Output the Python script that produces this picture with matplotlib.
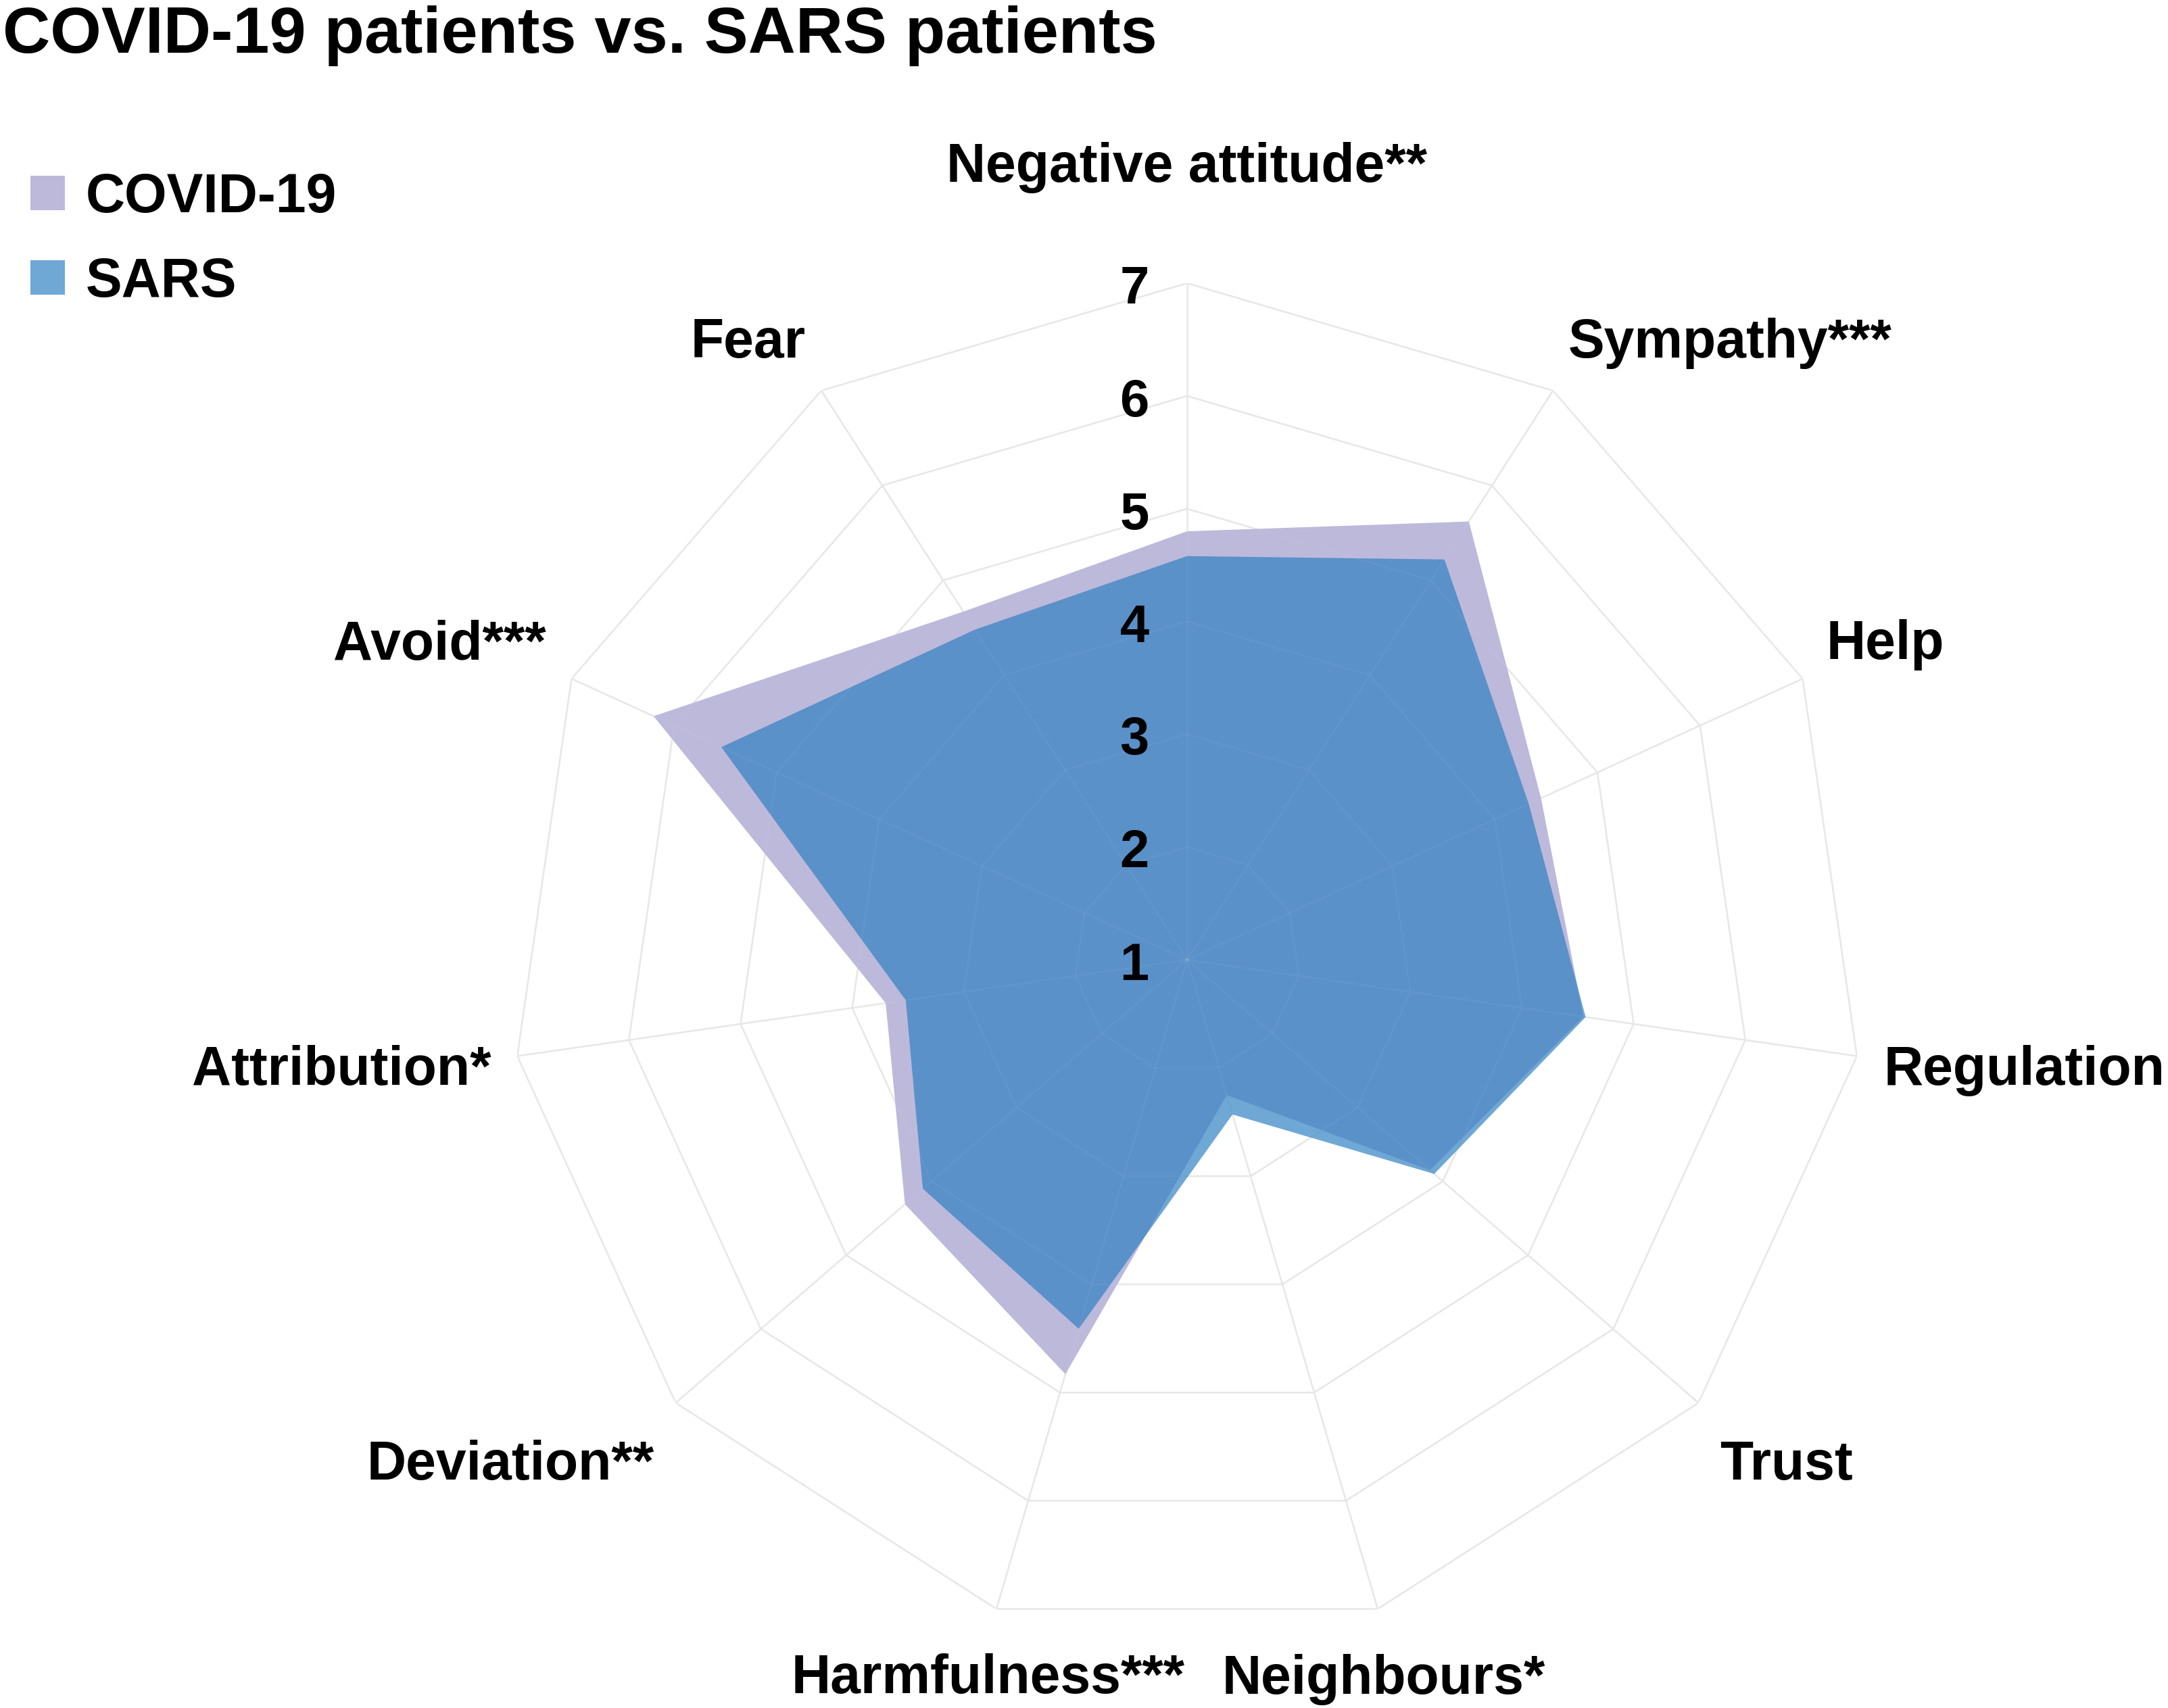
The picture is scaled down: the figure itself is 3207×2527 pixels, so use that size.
import numpy as np
import matplotlib
matplotlib.use('Agg')
import matplotlib.pyplot as plt
from matplotlib.patches import Rectangle

# ---------------- data ----------------
categories = ['Negative attitude**', 'Sympathy***', 'Help', 'Regulation', 'Trust',
              'Neighbours*', 'Harmfulness***', 'Deviation**', 'Attribution*',
              'Avoid***', 'Fear']
covid = [4.80, 5.62, 4.45, 4.55, 3.85, 2.25, 4.83, 4.31, 3.70, 6.20, 4.67]
sars = [4.58, 5.22, 4.33, 4.57, 3.90, 2.43, 4.41, 4.10, 3.52, 5.54, 4.48]
series_names = ['COVID-19', 'SARS']
scale_ticks = [1, 2, 3, 4, 5, 6, 7]
title = 'COVID-19 patients vs. SARS patients'

# ---------------- style ----------------
plt.rcParams['font.family'] = ['Liberation Sans', 'DejaVu Sans']
covid_color = '#BDB9DB'
sars_color = '#2B7EC1'
sars_alpha = 0.68
grid_color = '#E7E7E7'

W, H = 3207, 2527
fig = plt.figure(figsize=(W / 100, H / 100), dpi=100)
cx, cy, R = 1756, 1420, 1001
ax = fig.add_axes([(cx - R) / W, (H - cy - R) / H, 2 * R / W, 2 * R / H],
                  projection='polar')
ax.set_theta_zero_location('N')
ax.set_theta_direction(-1)
ax.set_ylim(scale_ticks[0], scale_ticks[-1])
ax.axis('off')

N = len(categories)
theta = np.linspace(0, 2 * np.pi, N, endpoint=False)
tc = np.append(theta, theta[0])


def closed(v):
    return np.append(v, v[0])


def draw_grid(z, color, alpha, lw):
    for rv in scale_ticks[1:]:
        ax.plot(tc, [rv] * (N + 1), color=color, lw=lw, alpha=alpha, zorder=z,
                solid_joinstyle='miter')
    for th in theta:
        ax.plot([th, th], [scale_ticks[0], scale_ticks[-1]], color=color, lw=lw,
                alpha=alpha, zorder=z)


draw_grid(1, grid_color, 1.0, 1.8)
ax.fill(tc, closed(covid), color=covid_color, lw=0, zorder=2)
# white underlay so the grid does not show through the translucent SARS layer
ax.fill(tc, closed(sars), color='white', lw=0, zorder=2.5, alpha=0.0)
ax.fill(tc, closed(sars), color=sars_color, alpha=sars_alpha, lw=0, zorder=3)
draw_grid(4, '#F2F2F2', 0.05, 1.8)

# scale labels along the top axis
for v in scale_ticks:
    ax.annotate(str(v), xy=(0, v), xytext=(-78, -30), textcoords='offset pixels',
                ha='center', va='baseline', fontsize=56, fontweight='bold',
                color='black', zorder=6, annotation_clip=False)

# category labels (layout: angle in degrees, radius, horizontal alignment)
label_layout = [(0, 8.07, 'center'), (31.5, 7.47, 'left'), (63.4, 7.34, 'left'),
                (98.6, 7.25, 'left'), (133.2, 7.48, 'left'), (164.6, 7.57, 'center'),
                (195.6, 7.57, 'center'), (226.8, 7.48, 'right'), (261.4, 7.24, 'right'),
                (296.5, 7.35, 'right'), (328.5, 7.47, 'right')]
for name, (deg, rr, ha) in zip(categories, label_layout):
    ax.annotate(name, xy=(np.deg2rad(deg), rr), xytext=(0, -29),
                textcoords='offset pixels', ha=ha, va='baseline', fontsize=58,
                fontweight='bold', color='black', annotation_clip=False)

# title
fig.text(4 / W, 1 - 78 / H, title, ha='left', va='baseline', fontsize=70,
         fontweight='bold', color='black')

# legend
leg_items = [(series_names[0], covid_color, 1.0, 260),
             (series_names[1], sars_color, sars_alpha, 385)]
for name, col, al, ytop in leg_items:
    fig.add_artist(Rectangle((45 / W, 1 - (ytop + 51) / H), 51 / W, 51 / H,
                             transform=fig.transFigure, facecolor=col, alpha=al,
                             edgecolor='none'))
    fig.text(127 / W, 1 - (ytop + 25 + 29) / H, name, ha='left', va='baseline',
             fontsize=58, fontweight='bold', color='black')

fig.savefig('out.png', dpi=100, facecolor='white')
